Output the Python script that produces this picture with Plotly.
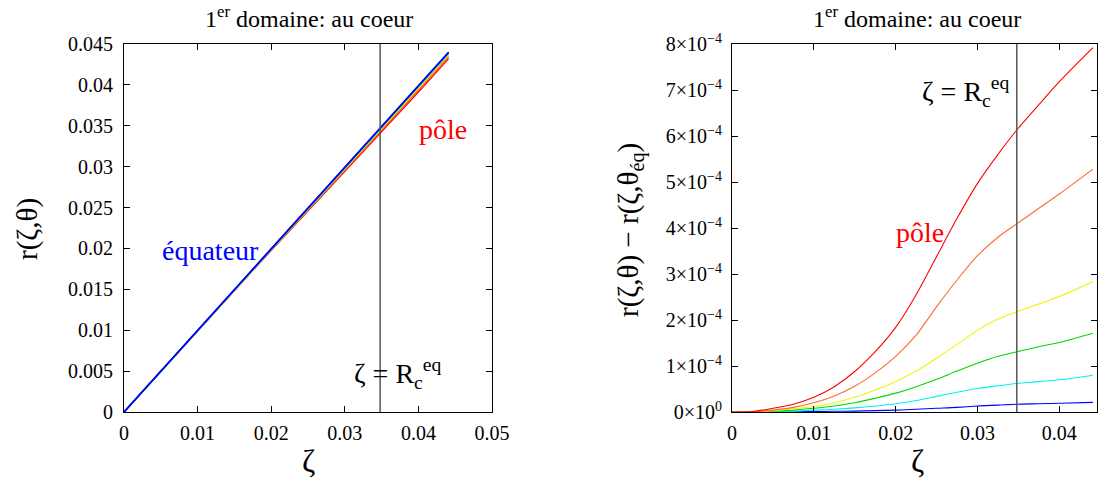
import plotly.graph_objects as go

# ---------------- data ----------------
zeta = [0, 0.0025, 0.005, 0.0075, 0.01, 0.0125, 0.015, 0.0175, 0.02, 0.0225, 0.025,
        0.0275, 0.03, 0.0325, 0.0348, 0.0375, 0.04, 0.0441]
r_equateur = [0, 0.00249, 0.00498, 0.00748, 0.00997, 0.01246, 0.01495, 0.01744, 0.01993,
              0.02242, 0.02492, 0.02741, 0.0299, 0.03239, 0.03468, 0.03737, 0.03986, 0.0440]

# r(eq) - r(theta), in units of 1e-4, from pole (red) to near-equator (blue)
diff_red = [0, 0.01, 0.08, 0.17, 0.32, 0.55, 0.88, 1.31, 1.84, 2.55, 3.38,
            4.21, 4.97, 5.60, 6.13, 6.68, 7.18, 7.92]
diff_orange = [0, 0.005, 0.04, 0.10, 0.20, 0.35, 0.56, 0.85, 1.21, 1.67, 2.29,
               2.87, 3.40, 3.80, 4.09, 4.43, 4.74, 5.28]
diff_yellow = [0, 0.004, 0.03, 0.07, 0.12, 0.20, 0.32, 0.48, 0.66, 0.89, 1.17,
               1.47, 1.78, 2.02, 2.18, 2.35, 2.51, 2.83]
diff_green = [0, 0.002, 0.015, 0.04, 0.08, 0.13, 0.20, 0.30, 0.41, 0.55, 0.71,
              0.89, 1.06, 1.21, 1.31, 1.42, 1.51, 1.71]
diff_cyan = [0, 0.001, 0.01, 0.02, 0.04, 0.06, 0.09, 0.13, 0.18, 0.25, 0.34,
             0.43, 0.51, 0.57, 0.62, 0.66, 0.70, 0.80]
diff_blue = [0, 0, 0.002, 0.005, 0.01, 0.015, 0.02, 0.03, 0.04, 0.06, 0.08,
             0.10, 0.13, 0.15, 0.17, 0.18, 0.19, 0.21]

R_c_eq = 0.0348

series = [
    ("pôle", diff_red, "#ff0000"),
    ("θ2", diff_orange, "#ff6a2a"),
    ("θ3", diff_yellow, "#f2f200"),
    ("θ4", diff_green, "#00d800"),
    ("θ5", diff_cyan, "#00f0f0"),
    ("θ6", diff_blue, "#0000ff"),
]

left_yticks = [0, 0.005, 0.01, 0.015, 0.02, 0.025, 0.03, 0.035, 0.04, 0.045]
left_yticktext = ["0", "0.005", "0.01", "0.015", "0.02", "0.025", "0.03", "0.035", "0.04", "0.045"]
left_xticks = [0, 0.01, 0.02, 0.03, 0.04, 0.05]
left_xticktext = ["0", "0.01", "0.02", "0.03", "0.04", "0.05"]
right_xticks = [0, 0.01, 0.02, 0.03, 0.04]
right_xticktext = ["0", "0.01", "0.02", "0.03", "0.04"]
right_yticks = [0, 1e-4, 2e-4, 3e-4, 4e-4, 5e-4, 6e-4, 7e-4, 8e-4]
right_yticktext = ["0×10<sup>0</sup>"] + ["%d×10<sup>−4</sup>" % k for k in range(1, 9)]

FONT = "Liberation Serif"
W, H = 1098, 479

fig = go.Figure()

# left panel: r(zeta, theta) = r_eq - diff
for name, d, col in series:
    r = [re - v * 1e-4 for re, v in zip(r_equateur, d)]
    fig.add_trace(go.Scatter(x=zeta, y=r, mode="lines", line=dict(color=col, width=1.4),
                             xaxis="x", yaxis="y", showlegend=False, name=name))
fig.add_trace(go.Scatter(x=zeta, y=r_equateur, mode="lines", line=dict(color="#0000ff", width=1.6),
                         xaxis="x", yaxis="y", showlegend=False, name="équateur"))

# right panel
for name, d, col in reversed(series):
    fig.add_trace(go.Scatter(x=zeta, y=[v * 1e-4 for v in d], mode="lines",
                             line=dict(color=col, width=1.1, shape="spline", smoothing=0.8),
                             xaxis="x2", yaxis="y2", showlegend=False, name=name))

# vertical lines at R_c^eq
for xr, yr in (("x", "y"), ("x2", "y2")):
    fig.add_shape(type="line", xref=xr, yref=yr + " domain", x0=R_c_eq, x1=R_c_eq, y0=0, y1=1,
                  line=dict(color="#555555", width=1.5))

axis_common = dict(showline=True, linecolor="black", linewidth=1, mirror="ticks", ticks="inside",
                   ticklen=6, tickcolor="black", showgrid=False, zeroline=False, automargin=False,
                   tickfont=dict(family=FONT, size=20, color="black"))

ydom = [(H - 412) / H, (H - 44) / H]
fig.update_layout(
    width=W, height=H,
    margin=dict(l=0, r=0, t=0, b=0),
    paper_bgcolor="white", plot_bgcolor="white",
    font=dict(family=FONT, color="black"),
    xaxis=dict(domain=[124 / W, 492 / W], range=[0, 0.05], tickvals=left_xticks,
               ticktext=left_xticktext, anchor="y", ticklabelstandoff=3, **axis_common),
    yaxis=dict(domain=ydom, range=[0, 0.045], tickvals=left_yticks, ticktext=left_yticktext,
               anchor="x", ticklabelstandoff=6, **axis_common),
    xaxis2=dict(domain=[732 / W, 1097 / W], range=[0, 0.0446], tickvals=right_xticks,
                ticktext=right_xticktext, anchor="y2", ticklabelstandoff=3, **axis_common),
    yaxis2=dict(domain=ydom, range=[0, 8e-4], tickvals=right_yticks, ticktext=right_yticktext,
                anchor="x2", ticklabelstandoff=5, **axis_common),
)


def px_ann(text, x, y, size, color="black", angle=0):
    return dict(text=text, x=x / W, y=1 - y / H, xref="paper", yref="paper", showarrow=False,
                font=dict(family=FONT, size=size, color=color), xanchor="center", yanchor="middle",
                textangle=angle)


ann = []
ann.append(px_ann("1<sup>er</sup> domaine: au coeur", 309, 17, 24))
ann.append(px_ann("1<sup>er</sup> domaine: au coeur", 917, 17, 24))
ann.append(px_ann("ζ", 308, 461, 32))
ann.append(px_ann("ζ", 917, 461, 32))
ann.append(px_ann("r(ζ,θ)", 28, 229, 29, angle=-90))
ann.append(px_ann("r(ζ,θ) − r(ζ,θ<sub>éq</sub>)", 631, 230, 29, angle=-90))

ann.append(dict(text="équateur", x=0.0118, y=0.0197, xref="x", yref="y", showarrow=False,
                font=dict(family=FONT, size=28, color="#0000ff"), xanchor="center", yanchor="middle"))
ann.append(dict(text="pôle", x=0.0433, y=0.0345, xref="x", yref="y", showarrow=False,
                font=dict(family=FONT, size=28, color="#ff0000"), xanchor="center", yanchor="middle"))
ann.append(dict(text="ζ = R<sub>c</sub><sup>eq</sup>", x=0.0372, y=0.0047, xref="x", yref="y", showarrow=False,
                font=dict(family=FONT, size=28, color="black"), xanchor="center", yanchor="middle"))
ann.append(dict(text="ζ = R<sub>c</sub><sup>eq</sup>", x=0.0285, y=6.96e-4, xref="x2", yref="y2", showarrow=False,
                font=dict(family=FONT, size=28, color="black"), xanchor="center", yanchor="middle"))
ann.append(dict(text="pôle", x=0.0230, y=3.9e-4, xref="x2", yref="y2", showarrow=False,
                font=dict(family=FONT, size=28, color="#ff0000"), xanchor="center", yanchor="middle"))
fig.update_layout(annotations=ann)

fig.write_html("out.html", config={"displayModeBar": False},
               post_script="document.body.style.margin='0';document.body.style.overflow='hidden';")
